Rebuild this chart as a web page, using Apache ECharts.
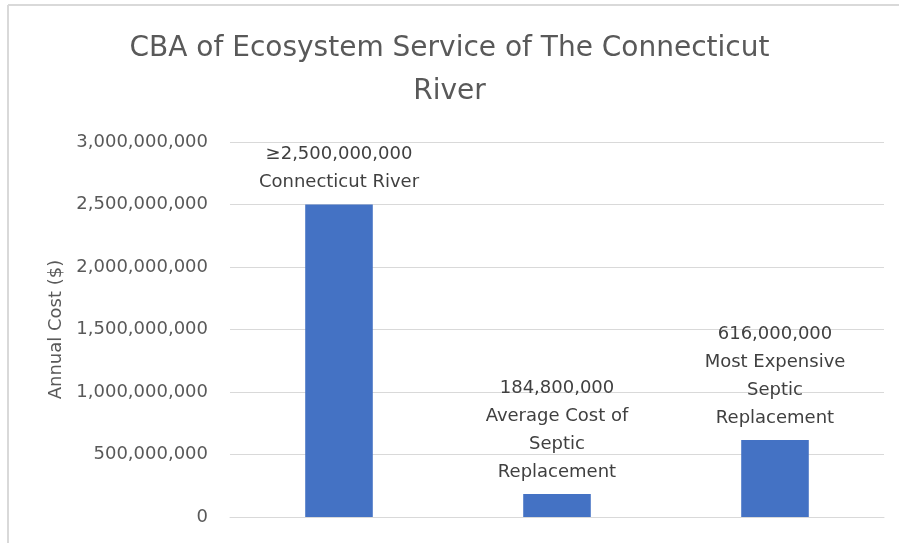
<!DOCTYPE html>
<html>
<head>
<meta charset="utf-8">
<script src="https://cdn.jsdelivr.net/npm/echarts@6/dist/echarts.min.js"></script>
<style>
  html, body { margin: 0; padding: 0; background: #ffffff; }
  #chart { width: 899px; height: 543px; }
</style>
</head>
<body>
<div id="chart"></div>
<script>
// Annual cost comparison: river ecosystem service vs. septic replacement
const categories = ['Connecticut River', 'Average Cost of Septic Replacement', 'Most Expensive Septic Replacement'];
const costs = [2500000000, 184800000, 616000000];
const valueLabels = ['\u22652,500,000,000', '184,800,000', '616,000,000'];
const nameLabels = ['Connecticut River', 'Average Cost of\nSeptic\nReplacement', 'Most Expensive\nSeptic\nReplacement'];
const yTicks = [0, 500000000, 1000000000, 1500000000, 2000000000, 2500000000, 3000000000];

const FONT = '"DejaVu Sans", "Open Sans", sans-serif';

const chart = echarts.init(document.getElementById('chart'), null, { renderer: 'canvas' });

chart.setOption({
  backgroundColor: '#ffffff',
  animation: false,
  title: {
    text: 'CBA of Ecosystem Service of The Connecticut\nRiver',
    left: 'center',
    top: 22,
    textStyle: {
      fontFamily: FONT,
      fontSize: 28,
      fontWeight: 'normal',
      color: '#595959',
      lineHeight: 43
    }
  },
  graphic: [
    { type: 'line', shape: { x1: 8, y1: 5, x2: 899, y2: 5 }, style: { stroke: '#d9d9d9', lineWidth: 2 } },
    { type: 'line', shape: { x1: 8, y1: 5, x2: 8, y2: 543 }, style: { stroke: '#d9d9d9', lineWidth: 2 } }
  ],
  grid: { left: 230, right: 15, top: 142, bottom: 26, containLabel: false },
  xAxis: {
    type: 'category',
    data: categories,
    axisLine: { show: true, lineStyle: { color: '#d9d9d9', width: 1 } },
    axisTick: { show: false },
    axisLabel: { show: false }
  },
  yAxis: {
    type: 'value',
    min: yTicks[0],
    max: yTicks[yTicks.length - 1],
    interval: yTicks[1] - yTicks[0],
    name: 'Annual Cost ($)',
    nameLocation: 'middle',
    nameRotate: 90,
    nameGap: 163,
    nameTextStyle: { fontFamily: FONT, fontSize: 18, color: '#595959' },
    axisLine: { show: false },
    axisTick: { show: false },
    axisLabel: {
      fontFamily: FONT,
      fontSize: 18,
      color: '#595959',
      margin: 22,
      formatter: v => v.toLocaleString('en-US')
    },
    splitLine: { lineStyle: { color: '#d9d9d9', width: 1 } }
  },
  series: [{
    type: 'bar',
    data: costs,
    barWidth: '31%',
    itemStyle: { color: '#4472c4' },
    label: {
      show: true,
      position: 'top',
      distance: 8,
      fontFamily: FONT,
      fontSize: 18,
      lineHeight: 28,
      color: '#404040',
      formatter: p => valueLabels[p.dataIndex] + '\n' + nameLabels[p.dataIndex]
    }
  }]
});
</script>
</body>
</html>
